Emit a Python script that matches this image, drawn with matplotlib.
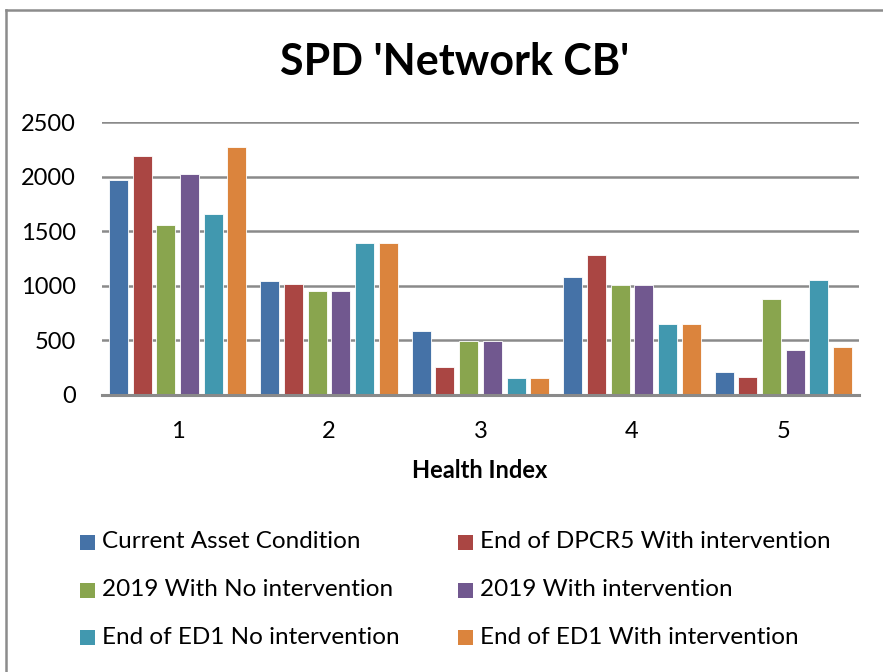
import matplotlib
matplotlib.use("Agg")
import matplotlib.pyplot as plt
from matplotlib.patches import Rectangle
import numpy as np

plt.rcParams['font.family'] = ['Lato', 'DejaVu Sans']

categories = ["1", "2", "3", "4", "5"]
series_names = [
    "Current Asset Condition",
    "End of DPCR5 With intervention",
    "2019 With No intervention",
    "2019 With intervention",
    "End of ED1 No intervention",
    "End of ED1 With intervention",
]
current_asset = [1975, 1042, 588, 1081, 211]
dpcr5_with = [2190, 1020, 257, 1280, 165]
y2019_no = [1560, 956, 493, 1010, 876]
y2019_with = [2030, 956, 493, 1010, 410]
ed1_no = [1655, 1388, 156, 646, 1050]
ed1_with = [2275, 1388, 156, 646, 435]
series_values = [current_asset, dpcr5_with, y2019_no, y2019_with, ed1_no, ed1_with]
colors = ["#4572A7", "#AA4643", "#89A54E", "#71588F", "#4198AF", "#DB843D"]
yticks = [0, 500, 1000, 1500, 2000, 2500]

W, H = 883, 672
fig = plt.figure(figsize=(W / 100, H / 100), dpi=100)
fig.patch.set_facecolor("white")

# chart border (left & top visible)
fig.add_artist(plt.Line2D([6 / W, 6 / W], [0, 1 - 10 / H], transform=fig.transFigure,
                          color="#8c8c8c", lw=1.8))
fig.add_artist(plt.Line2D([6 / W, 1], [1 - 10 / H, 1 - 10 / H], transform=fig.transFigure,
                          color="#8c8c8c", lw=1.8))

left, right = 102 / W, 859 / W
bottom, top = 1 - 394.7 / H, 1 - 122.3 / H
ax = fig.add_axes([left, bottom, right - left, top - bottom])

x = np.arange(len(categories))
pitch = 0.1565
width = 0.1255
for i, (name, vals, c) in enumerate(zip(series_names, series_values, colors)):
    ax.bar(x + (i - 2.5) * pitch, vals, width=width, color=c, label=name,
           edgecolor="white", linewidth=0.6, zorder=3)

ax.set_xlim(-0.5, len(categories) - 0.5)
ax.set_ylim(0, 2500)
ax.set_yticks(yticks)
ax.set_yticklabels([str(v) for v in yticks])
ax.set_xticks(x)
ax.set_xticklabels(categories)
ax.tick_params(axis="both", length=0, labelsize=17, colors="black")
ax.tick_params(axis="y", pad=19)
ax.tick_params(axis="x", pad=19)
ax.yaxis.grid(True, color="#8a8a8a", linewidth=1.8, zorder=0)
ax.set_axisbelow(True)
for s in ["left", "right", "top"]:
    ax.spines[s].set_visible(False)
ax.spines["bottom"].set_color("#8a8a8a")
ax.spines["bottom"].set_linewidth(2.2)
ax.spines["bottom"].set_zorder(4)

fig.text(455 / W, 1 - 62 / H, "SPD 'Network CB'", ha="center", va="center",
         fontsize=31, fontweight="bold")
fig.text(480 / W, 1 - 470 / H, "Health Index", ha="center", va="center",
         fontsize=17, fontweight="bold")

# legend laid out in rows of two
row_y = [542, 590, 637]
col_x = [80, 458]
text_x = [102, 480]
sq = 15
for i, (name, c) in enumerate(zip(series_names, colors)):
    r, col = divmod(i, 2)
    yc = row_y[r]
    fig.add_artist(Rectangle((col_x[col] / W, 1 - (yc + sq / 2) / H), sq / W, sq / H,
                             transform=fig.transFigure, facecolor=c, edgecolor="none"))
    fig.text(text_x[col] / W, 1 - yc / H, name, ha="left", va="center", fontsize=17.5)

fig.savefig("out.png", dpi=100, facecolor="white")
